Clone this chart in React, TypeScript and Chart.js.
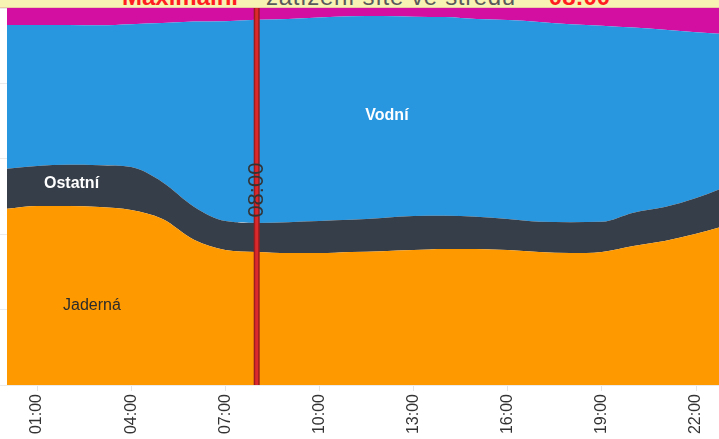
import React, { useEffect, useRef } from 'react';
import { Chart, registerables } from 'chart.js';

Chart.register(...registerables);

const HOURS = [0, 1, 2, 3, 4, 5, 6, 7, 8, 9, 10, 11, 12, 13, 14, 15, 16, 17, 18, 19, 20, 21, 22, 23];
const TICK_HOURS = [1, 4, 7, 10, 13, 16, 19, 22];

const JADERNA = [4670, 4750, 4750, 4720, 4640, 4400, 3850, 3580, 3530, 3500, 3500, 3530, 3550, 3580, 3610, 3610, 3580, 3530, 3500, 3530, 3690, 3820, 4010, 4240];
const OSTATNI = [1060, 1060, 1090, 1110, 1140, 980, 880, 770, 770, 820, 850, 850, 880, 900, 880, 850, 820, 800, 820, 800, 880, 900, 950, 1030];
const VODNI = [3820, 3740, 3710, 3710, 3790, 4220, 4910, 5300, 5390, 5390, 5400, 5400, 5360, 5290, 5270, 5250, 5280, 5300, 5250, 5200, 4910, 4700, 4400, 4030];
const PRECERPAVACI = [900, 900, 900, 900, 900, 900, 900, 900, 900, 900, 900, 900, 900, 900, 900, 900, 900, 900, 900, 900, 900, 900, 900, 900];

const SERIES_NAMES = ['Jaderná', 'Ostatní', 'Vodní', 'Přečerpávací'];
const SERIES_COLORS = ['#ff9900', '#363e49', '#2996e0', '#d30fa2'];

const MAX_HOUR = 8;
const MAX_LABEL = '08:00';
const MAX_LABEL_VALUE = 5170;

const AREA_LABELS = [
  { text: 'Vodní', hour: 12.15, value: 7135, color: '#ffffff', weight: 'bold' },
  { text: 'Ostatní', hour: 2.1, value: 5330, color: '#ffffff', weight: 'bold' },
  { text: 'Jaderná', hour: 2.75, value: 2095, color: '#2b2b2b', weight: 'normal' },
];

const TITLE_RED_1 = 'Maximální';
const TITLE_GREY = 'zatížení sítě ve středu';
const TITLE_RED_2 = '08:00';

const X_MIN = 0.044;
const X_MAX = 22.73;
const Y_MAX = 10000;
const Y_STEP = 2000;

const pad = (h: number) => String(h).padStart(2, '0') + ':00';

const overlayPlugin = {
  id: 'overlay',
  afterDatasetsDraw(chart: any) {
    const { ctx, chartArea, scales } = chart;
    const xs = scales.x;
    const ys = scales.y;
    ctx.save();
    ctx.textAlign = 'center';
    ctx.textBaseline = 'middle';
    for (const l of AREA_LABELS) {
      ctx.font = `${l.weight} 16px "Liberation Sans", Arial, sans-serif`;
      ctx.fillStyle = l.color;
      ctx.fillText(l.text, xs.getPixelForValue(l.hour), ys.getPixelForValue(l.value));
    }
    const x = xs.getPixelForValue(MAX_HOUR);
    ctx.fillStyle = '#9a1c1f';
    ctx.fillRect(x - 3, chartArea.top, 6, chartArea.bottom - chartArea.top);
    ctx.fillStyle = '#dc2a2c';
    ctx.fillRect(x - 1.5, chartArea.top, 3, chartArea.bottom - chartArea.top);
    ctx.translate(x, ys.getPixelForValue(MAX_LABEL_VALUE));
    ctx.rotate(-Math.PI / 2);
    ctx.font = '22px "Liberation Sans", Arial, sans-serif';
    ctx.fillStyle = '#333333';
    ctx.fillText(MAX_LABEL, 0, 0);
    ctx.restore();
  },
};

export default function App() {
  const ref = useRef<HTMLCanvasElement>(null);
  useEffect(() => {
    const series = [JADERNA, OSTATNI, VODNI, PRECERPAVACI];
    const chart = new Chart(ref.current!, {
      type: 'line',
      data: {
        datasets: series.map((vals, i) => ({
          label: SERIES_NAMES[i],
          data: HOURS.map((h, j) => ({ x: h, y: vals[j] })),
          backgroundColor: SERIES_COLORS[i],
          borderColor: SERIES_COLORS[i],
          borderWidth: 0,
          pointRadius: 0,
          fill: i === 0 ? 'origin' : '-1',
          cubicInterpolationMode: 'monotone',
        })),
      },
      options: {
        animation: false,
        responsive: false,
        maintainAspectRatio: false,
        layout: { padding: { top: 8, left: 0, right: 0, bottom: 0 } },
        plugins: { legend: { display: false }, tooltip: { enabled: false }, title: { display: false } },
        scales: {
          x: {
            type: 'linear',
            min: X_MIN,
            max: X_MAX,
            afterBuildTicks: (s: any) => {
              s.ticks = TICK_HOURS.map((v) => ({ value: v }));
            },
            afterFit: (s: any) => {
              s.height = 54;
            },
            ticks: {
              autoSkip: false,
              minRotation: 90,
              maxRotation: 90,
              padding: 3,
              color: '#333333',
              font: { family: '"Liberation Sans", Arial, sans-serif', size: 16 },
              callback: (v: any) => pad(Number(v)),
            },
            grid: { drawOnChartArea: false, drawTicks: true, tickLength: 6, color: '#e4e4e4' },
            border: { display: false },
          },
          y: {
            stacked: true,
            min: 0,
            max: Y_MAX,
            ticks: { display: false, stepSize: Y_STEP },
            grid: { color: '#ebebeb', tickLength: 7, drawTicks: true },
            border: { display: false },
          },
        },
      },
      plugins: [overlayPlugin],
    });
    return () => chart.destroy();
  }, []);

  return (
    <div style={{ position: 'fixed', left: 0, top: 0, width: 719, height: 439, overflow: 'hidden', background: '#ffffff' }}>
      <canvas ref={ref} width={719} height={439} style={{ position: 'absolute', left: 0, top: 0, width: 719, height: 439 }} />
      <div
        style={{
          position: 'absolute',
          left: 0,
          top: 0,
          width: 719,
          height: 7,
          overflow: 'hidden',
          background: '#f7f3b3',
          borderBottom: '1px solid #eccaa5',
        }}
      >
        <div
          style={{
            position: 'absolute',
            left: 122,
            top: -18,
            whiteSpace: 'nowrap',
            fontFamily: '"Liberation Sans", Arial, sans-serif',
            fontSize: 24,
            lineHeight: '30px',
          }}
        >
          <span style={{ color: '#ff1f1f', fontWeight: 'bold' }}>{TITLE_RED_1}</span>
          <span style={{ display: 'inline-block', width: 28 }} />
          <span style={{ color: '#5a5a5a', letterSpacing: '0.65px' }}>{TITLE_GREY}</span>
          <span style={{ display: 'inline-block', width: 33, textAlign: 'center', color: '#5a5a5a' }}>-</span>
          <span style={{ color: '#ff1f1f', fontWeight: 'bold' }}>{TITLE_RED_2}</span>
        </div>
      </div>
    </div>
  );
}
